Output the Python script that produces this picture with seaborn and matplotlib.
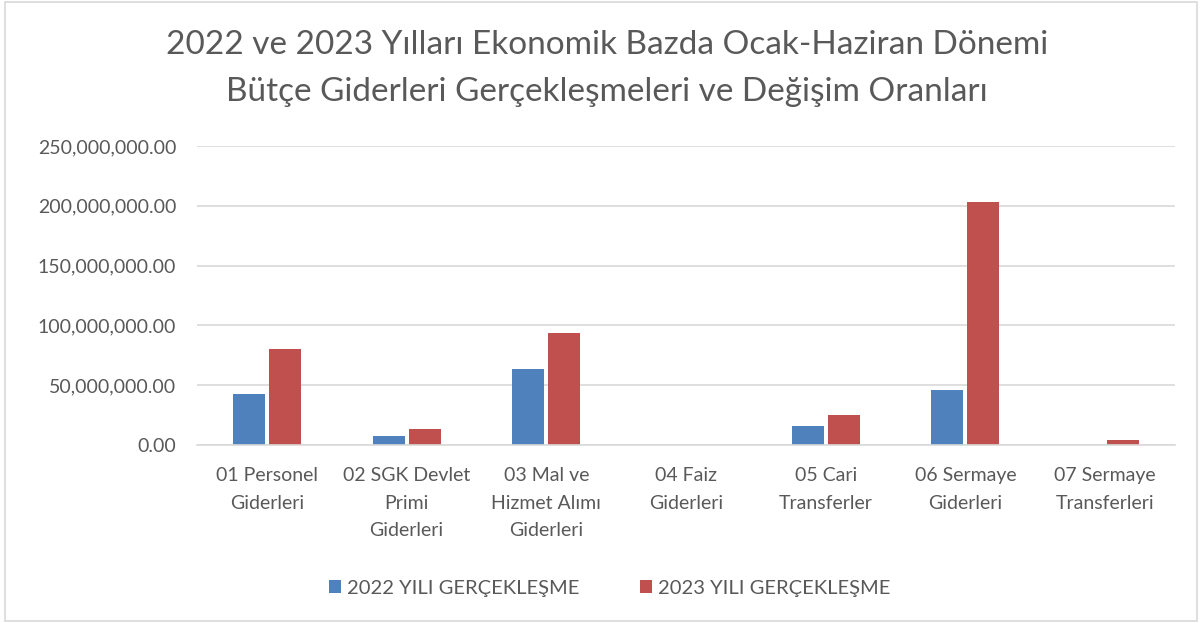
import pandas as pd
import numpy as np
import matplotlib
matplotlib.use("Agg")
import matplotlib.pyplot as plt
import seaborn as sns
from matplotlib.ticker import FuncFormatter
from matplotlib.patches import Rectangle

# data (TL)
categories = [
    "01 Personel\nGiderleri",
    "02 SGK Devlet\nPrimi\nGiderleri",
    "03 Mal ve\nHizmet Alımı\nGiderleri",
    "04 Faiz\nGiderleri",
    "05 Cari\nTransferler",
    "06 Sermaye\nGiderleri",
    "07 Sermaye\nTransferleri",
]
values_2022 = [42.5e6, 7.9e6, 63.5e6, 0.0, 15.9e6, 46.0e6, 0.0]
values_2023 = [80.3e6, 13.7e6, 93.6e6, 0.4e6, 25.3e6, 203.5e6, 4.0e6]
series_names = ["2022 YILI GERÇEKLEŞME", "2023 YILI GERÇEKLEŞME"]
yticks = [0, 50e6, 100e6, 150e6, 200e6, 250e6]

title = ("2022 ve 2023 Yılları Ekonomik Bazda Ocak-Haziran Dönemi\n"
         "Bütçe Giderleri Gerçekleşmeleri ve Değişim Oranları")

df = pd.DataFrame({
    "kategori": categories * 2,
    "deger": values_2022 + values_2023,
    "seri": [series_names[0]] * len(categories) + [series_names[1]] * len(categories),
})

sns.set_theme(style="white")
plt.rcParams["font.family"] = ["Lato", "DejaVu Sans"]
text_color = "#595959"
grid_color = "#D9D9D9"

fig = plt.figure(figsize=(12.02, 6.23), dpi=100)
ax = fig.add_axes([0.164, 0.2857, 0.8135, 0.48])

sns.barplot(data=df, x="kategori", y="deger", hue="seri",
            palette=["#4F81BD", "#C0504D"], saturation=1, width=0.515, gap=0.11,
            edgecolor=None, linewidth=0, ax=ax, legend=True)

ax.set_ylim(0, 250e6)
ax.set_yticks(yticks)
ax.yaxis.set_major_formatter(FuncFormatter(lambda v, p: f"{v:,.2f}"))
ax.grid(axis="y", color=grid_color, linewidth=1.2)
ax.set_axisbelow(True)
for s in ["top", "right", "left"]:
    ax.spines[s].set_visible(False)
ax.spines["bottom"].set_color(grid_color)
ax.spines["bottom"].set_linewidth(1.2)
ax.tick_params(axis="both", length=0, colors=text_color, labelsize=14)
ax.tick_params(axis="y", pad=15)
ax.tick_params(axis="x", pad=16)
for lbl in ax.get_xticklabels():
    lbl.set_linespacing(1.75)
ax.set_xlabel("")
ax.set_ylabel("")

fig.text(0.505, 0.952, title, ha="center", va="top", fontsize=24,
         color=text_color, linespacing=1.72)

handles, labels = ax.get_legend_handles_labels()
ax.legend_.remove()
fig.legend(handles, labels, loc="center", bbox_to_anchor=(0.507, 0.056),
           ncol=2, frameon=False, fontsize=14.5, labelcolor=text_color,
           handlelength=0.6, handleheight=0.6, handletextpad=0.3,
           columnspacing=3.0)

# light frame around the whole chart
fig.patches.append(Rectangle((0.004, 0.004), 0.992, 0.992, transform=fig.transFigure,
                             fill=False, edgecolor="#D9D9D9", linewidth=1.2))

fig.savefig("out.png", dpi=100, facecolor="white")
